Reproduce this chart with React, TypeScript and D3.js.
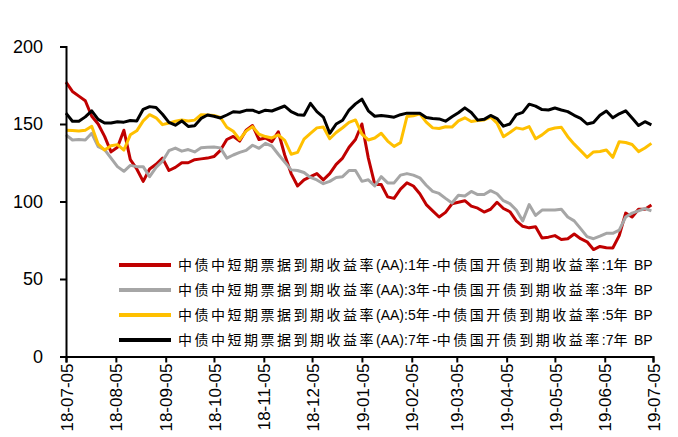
import { useRef, useEffect } from 'react';
import * as d3 from 'd3';

// sample dates: every 4 days from 2018-07-05
const startDate = new Date(2018, 6, 5);
const endDate = new Date(2019, 6, 5);
const dates: Date[] = d3.range(92).map((i) => d3.timeDay.offset(startDate, i * 4));

const tickDates: Date[] = d3.range(13).map((i) => new Date(2018, 6 + i, 5));
const yTicks: number[] = [0, 50, 100, 150, 200];

const red1y: number[] = [
  177, 171, 168, 165, 155, 150, 142, 132, 135, 146,
  127, 121, 113, 121, 124, 128, 120, 122, 125, 125,
  127, 127.5, 128, 129, 133, 140, 142, 139, 146, 149,
  140, 141, 138.6, 145, 130, 118, 110, 114, 116, 118,
  114, 118, 124, 128, 135, 140, 150, 128, 111, 111,
  103, 102, 108, 112, 110, 105, 98, 94, 90, 93,
  98.5, 99.5, 100.5, 97, 95.7, 93.2, 95, 99.5, 95.5, 93.4,
  87.5, 84, 83, 83.7, 76.5, 77, 78, 75.5, 76, 79,
  76, 74, 69, 71, 70.2, 70, 78, 92.5, 90, 95,
  95, 97.7,
];

const gray3y: number[] = [
  143, 139.7, 140, 139.7, 144, 135.4, 133.5, 128, 122.5, 119.5,
  123.3, 122.5, 122.5, 116, 122, 126, 132.8, 134.5, 132.5, 133.5,
  132, 134.7, 135, 135.2, 134.6, 128, 130, 131.7, 133, 136.3,
  134.3, 137.5, 135.8, 130.5, 125.5, 120.4, 120, 118.7, 115.5, 113.9,
  111.5, 113, 115.5, 116, 120, 120, 113, 114, 110, 116,
  112, 112, 117, 118, 117, 115.3, 110.5, 106.5, 105.2, 102,
  99, 104, 103.5, 106.5, 104.5, 104.5, 107, 105, 100.5, 98.6,
  94.5, 87.5, 98, 91, 94.5, 94.5, 94.5, 95, 90, 87.5,
  82.5, 77.3, 76, 77.6, 79.5, 79.5, 81.5, 90, 92.5, 94,
  95.5, 94,
];

const yellow5y: number[] = [
  146, 145.8, 145.5, 146, 148.5, 137, 133.2, 136, 136.7, 133.2,
  143, 145.6, 152, 156, 154, 149.6, 150.6, 151.8, 152.6, 152,
  152.5, 156, 155.8, 155.5, 154.2, 147.9, 145.3, 140, 145.4, 148.3,
  143.4, 141.9, 141, 143, 139.5, 130.5, 131.7, 140.2, 144, 147.5,
  148, 140.5, 144.5, 147.6, 151, 152.6, 143.5, 139.7, 141, 144,
  139, 135.5, 138, 154.8, 155.3, 156.5, 151.2, 147.5, 147.1, 148.2,
  148, 152, 154, 151.6, 152.3, 152.6, 154.5, 150.6, 141.8, 144.5,
  147.5, 146.7, 148.3, 140.5, 143, 146.3, 147.4, 147.9, 141.8, 137,
  132.8, 128.5, 132, 132.3, 133.2, 128.5, 138.6, 138.1, 136.8, 132.2,
  134.5, 137.5,
];

const black7y: number[] = [
  157, 151.8, 151.8, 154.6, 158.5, 153, 150.6, 150.6, 151.5, 151.2,
  152.3, 152, 159.5, 161.2, 160.6, 156.3, 151, 149.2, 152, 148.4,
  148.9, 153.6, 155.8, 155, 153.9, 155.8, 157.9, 157.6, 158.8, 158.9,
  157.3, 158.9, 158.4, 160, 161.6, 158, 156, 155.6, 163.3, 158,
  154.5, 144, 150, 152.4, 159, 163, 166, 158.5, 155, 155.5,
  155, 154.4, 156, 157, 157, 157, 154.2, 153.6, 153.3, 151.8,
  154.7, 157.3, 160.4, 157.4, 152.5, 153, 155.5, 153.5, 148.6, 150,
  156, 157.5, 162.8, 161.5, 159.3, 159, 160.3, 159, 158, 155.6,
  153.7, 150, 151, 155.6, 158.4, 154, 156.6, 158.5, 153.8, 149,
  151.5, 149.5,
];

const seriesNames: string[] = ['1', '3', '5', '7'];
const seriesColors: string[] = ['#C00000', '#A6A6A6', '#FFC000', '#000000'];
const seriesValues: number[][] = [red1y, gray3y, yellow5y, black7y];

const latinFont = '"Liberation Sans", Arial, "Noto Sans CJK SC", sans-serif';

export default function App() {
  const chartRef = useRef<SVGSVGElement | null>(null);

  useEffect(() => {
    if (!chartRef.current) return;
    const width = 678;
    const height = 437;
    const left = 66;
    const right = 653;
    const top = 46.5;
    const bottom = 356.5;

    const svg = d3.select(chartRef.current)
      .attr('width', width)
      .attr('height', height);
    svg.selectAll('*').remove();

    const x = d3.scaleTime().domain([startDate, endDate]).range([left, right]);
    const y = d3.scaleLinear().domain([0, 200]).range([bottom, top]);

    // lines
    const line = d3.line<number>()
      .x((_, i) => x(dates[i]))
      .y((d) => y(d));

    seriesValues.forEach((vals, si) => {
      svg.append('path')
        .datum(vals)
        .attr('d', line)
        .attr('fill', 'none')
        .attr('stroke', seriesColors[si])
        .attr('stroke-width', 3)
        .attr('stroke-linejoin', 'round');
    });

    // y axis
    const yAxis = svg.append('g').attr('transform', `translate(${left},0)`)
      .call(d3.axisLeft(y).tickValues(yTicks).tickSize(6).tickPadding(17));
    yAxis.select('.domain').attr('stroke', '#000').attr('stroke-width', 2);
    yAxis.selectAll('.tick line').attr('stroke', '#000').attr('stroke-width', 2);
    yAxis.selectAll('.tick text')
      .attr('font-family', latinFont)
      .attr('font-size', 18)
      .attr('fill', '#000');

    // x axis
    const xAxis = svg.append('g').attr('transform', `translate(0,${bottom})`)
      .call(d3.axisBottom(x).tickValues(tickDates).tickSize(6)
        .tickFormat((d) => d3.timeFormat('%y-%m-%d')(d as Date)));
    xAxis.select('.domain').attr('stroke', '#000').attr('stroke-width', 2);
    xAxis.selectAll('.tick line').attr('stroke', '#000').attr('stroke-width', 2);
    xAxis.selectAll('.tick text')
      .attr('font-family', latinFont)
      .attr('font-size', 17)
      .attr('fill', '#000')
      .attr('transform', 'rotate(-90)')
      .attr('text-anchor', 'end')
      .attr('x', -7)
      .attr('y', 0)
      .attr('dy', '0.36em');

    // legend
    const legend = svg.append('g');
    seriesNames.forEach((n, i) => {
      const ly = 265 + i * 25;
      legend.append('line')
        .attr('x1', 119).attr('x2', 171)
        .attr('y1', ly).attr('y2', ly)
        .attr('stroke', seriesColors[i])
        .attr('stroke-width', 4);
      const t = legend.append('text')
        .attr('x', 178).attr('y', ly)
        .attr('dy', '0.36em')
        .attr('font-family', latinFont)
        .attr('font-size', 14)
        .attr('fill', '#000');
      const parts: [string, boolean][] = [
        ['中债中短期票据到期收益率', true],
        ['(AA):' + n, false],
        ['年', true],
        ['-', false],
        ['中债国开债到期收益率', true],
        [':' + n, false],
        ['年', true],
        [' BP', false],
      ];
      parts.forEach(([s, cjk]) => {
        t.append('tspan')
          .attr('letter-spacing', cjk ? 2.5 : 0)
          .text(s);
      });
    });
  }, []);

  return (
    <div style={{ position: 'absolute', left: 0, top: 0 }}>
      <svg ref={chartRef} style={{ display: 'block', background: '#fff' }}></svg>
    </div>
  );
}
